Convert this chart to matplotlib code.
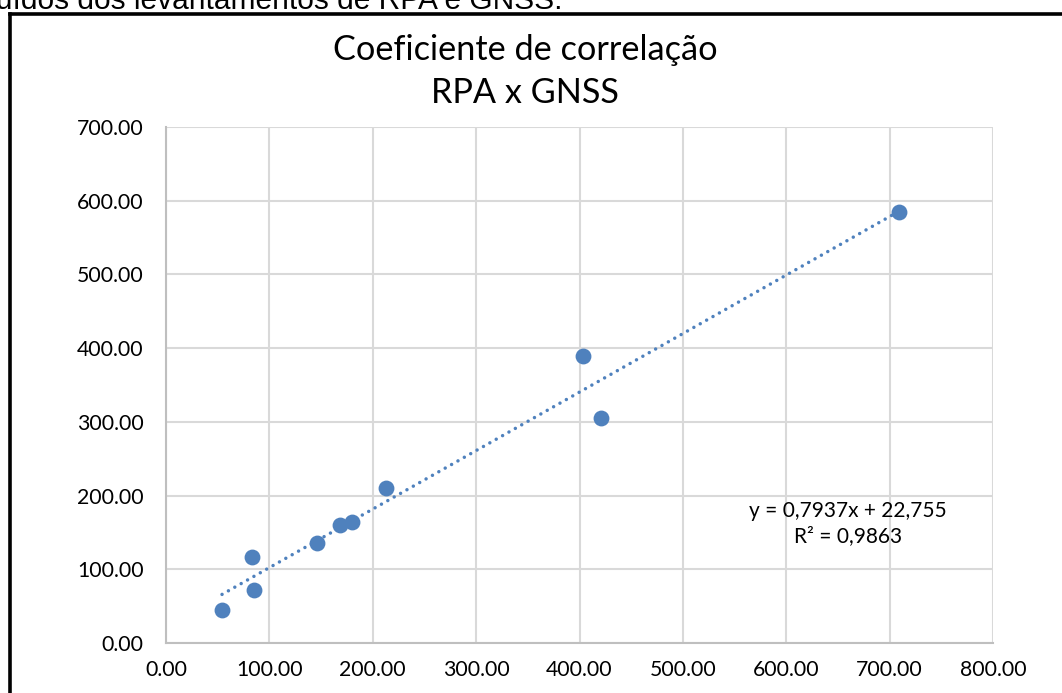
import numpy as np
import matplotlib
matplotlib.use("Agg")
import matplotlib.pyplot as plt
from matplotlib.lines import Line2D

# valores (RPA x GNSS)
rpa = [54.2, 83.5, 84.8, 145.7, 168.3, 179.9, 212.8, 403.3, 420.7, 708.9]
gnss = [44.8, 116.3, 71.9, 136.1, 160.1, 164.2, 210.3, 389.4, 305.3, 584.8]
ticks = [0, 100, 200, 300, 400, 500, 600, 700, 800]
yticks = [0, 100, 200, 300, 400, 500, 600, 700]
eq_text = "y = 0,7937x + 22,755\nR² = 0,9863"

blue = "#4f81bd"
grid = "#d9d9d9"

W, H = 1062, 693
fig = plt.figure(figsize=(W / 100, H / 100), dpi=100)
ax = fig.add_axes([166 / W, 1 - 643 / H, (993 - 166) / W, (643 - 127) / H])

ax.scatter(rpa, gnss, s=130, color=blue, zorder=3, linewidths=0)

# linha de tendência linear
a, b = np.polyfit(rpa, gnss, 1)
xs = np.array([min(rpa), max(rpa)])
ax.plot(xs, a * xs + b, color=blue, lw=2.5, linestyle=(0, (0.01, 2.1)),
        dash_capstyle="round", zorder=2)

ax.set_xlim(0, 800)
ax.set_ylim(0, 700)
ax.set_xticks(ticks)
ax.set_yticks(yticks)
ax.set_xticklabels([f"{t:.2f}" for t in ticks])
ax.set_yticklabels([f"{t:.2f}" for t in yticks])
ax.tick_params(length=0, labelsize=15.3, labelcolor="black")
ax.tick_params(axis="x", pad=12)
ax.tick_params(axis="y", pad=16)
for lab in ax.get_xticklabels() + ax.get_yticklabels():
    lab.set_family("Lato")
ax.grid(True, color=grid, lw=1.5)
ax.set_axisbelow(True)
for s in ["top", "right"]:
    ax.spines[s].set_visible(False)
for s in ["left", "bottom"]:
    ax.spines[s].set_color("#bfbfbf")
    ax.spines[s].set_linewidth(1.5)

ax.text(660, 162, eq_text, ha="center", va="center", fontsize=15,
        family="Lato", linespacing=1.3)

fig.text(525 / W, 1 - 50 / H, "Coeficiente de correlação", ha="center",
         va="center", fontsize=24.7, family="Lato")
fig.text(525 / W, 1 - 93 / H, "RPA x GNSS", ha="center", va="center",
         fontsize=24.7, family="Lato")

# texto cortado no topo (legenda do documento)
fig.text(563 / W, 1 - 9 / H, "distribuídos dos levantamentos de RPA e GNSS.",
         ha="right", va="baseline", fontsize=21.5, family="Liberation Sans")

# moldura preta
fig.add_artist(Line2D([10 / W, 10 / W], [0, 1 - 13.5 / H], color="black",
                      lw=2.6, transform=fig.transFigure, solid_capstyle="projecting"))
fig.add_artist(Line2D([10 / W, 1.0], [1 - 13.5 / H, 1 - 13.5 / H], color="black",
                      lw=2.6, transform=fig.transFigure, solid_capstyle="projecting"))

fig.savefig("out.png", dpi=100)
